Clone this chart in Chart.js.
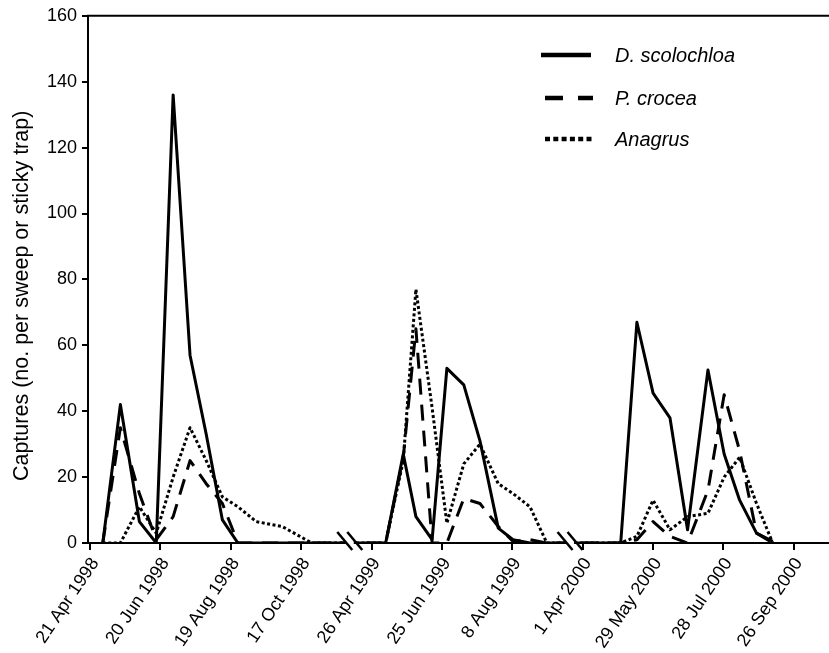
<!DOCTYPE html>
<html>
<head>
<meta charset="utf-8">
<script src="https://cdn.jsdelivr.net/npm/chart.js@4.4.1/dist/chart.umd.min.js"></script>
<style>
  html, body { margin: 0; padding: 0; background: #fff; }
  #wrap { width: 829px; height: 653px; }
</style>
</head>
<body>
<div id="wrap"><canvas id="chart"></canvas></div>
<script>
// tick labels, one per tick interval on the x axis
const tickLabels = ['21 Apr 1998', '20 Jun 1998', '19 Aug 1998', '17 Oct 1998',
    '26 Apr 1999', '25 Jun 1999', '8 Aug 1999',
    '1 Apr 2000', '29 May 2000', '28 Jul 2000', '26 Sep 2000'];

// sampling dates, as positions on the tick scale (1 = one tick interval)
const sampleX = [0.18, 0.43, 0.70, 0.94, 1.18, 1.42, 1.65, 1.88, 2.10, 2.36, 2.73, 3.15,
    4.20, 4.45, 4.63, 4.86, 5.07, 5.31, 5.54, 5.80, 6.01, 6.25, 6.49,
    7.32, 7.54, 7.77, 8.00, 8.24, 8.49, 8.78, 9.01, 9.23, 9.47, 9.70];

const scolochloa = [0, 42, 6.5, 0, 136, 57, 33, 7, 0, 0, 0, 0,
    0, 27, 8, 1, 53, 48, 31, 4.5, 1, 0, 0,
    0, 0, 67, 45.5, 38, 4, 52.5, 27, 13, 3, 0.5];
const crocea = [0, 35, 15, 1, 8, 25, 18, 12, 0, 0, 0, 0,
    0, 26, 65, 0, 0, 13.5, 12, 5, 0.5, 1, 0,
    0, 0, 1, 6.5, 2, 0, 16, 45, 28, 3, 0];
const anagrus = [0, 0, 11, 3, 20, 35, 25, 14, 11, 6.5, 5, 0,
    0, 25, 77, 41, 6, 24, 30, 18, 15, 11, 0,
    0, 0, 2, 13, 4, 8, 9, 20, 26, 12, 0];

// where the axis is broken (same tick scale)
const axisBreaks = [3.69, 6.82];

const toPoints = vals => vals.map((v, i) => ({ x: sampleX[i], y: v }));

Chart.defaults.font.family = '"Liberation Sans", Arial, Helvetica, sans-serif';
Chart.defaults.color = '#000';

// legend drawn inside the plot, top right
const legendPlugin = {
    id: 'inlineLegend',
    afterDraw(chart) {
        const ctx = chart.ctx;
        const rows = [{ y: 55, x0: 541, x1: 591 }, { y: 98, x0: 545, x1: 593 }, { y: 139, x0: 545, x1: 593 }];
        const dashes = [[], [18, 15], [5, 3.3]];
        chart.data.datasets.forEach((ds, i) => {
            const r = rows[i];
            ctx.save();
            ctx.strokeStyle = '#000';
            ctx.lineWidth = 4.5;
            ctx.setLineDash(dashes[i]);
            ctx.beginPath();
            ctx.moveTo(r.x0, r.y);
            ctx.lineTo(r.x1, r.y);
            ctx.stroke();
            ctx.setLineDash([]);
            ctx.fillStyle = '#000';
            ctx.font = 'italic 20px "Liberation Sans", Arial, sans-serif';
            ctx.textBaseline = 'alphabetic';
            ctx.fillText(ds.label, 615, r.y + 7);
            ctx.restore();
        });
    }
};

// top frame line, y title and the // break marks on the x axis
const framePlugin = {
    id: 'frame',
    afterDraw(chart) {
        const { ctx, chartArea, scales } = chart;
        ctx.save();
        ctx.strokeStyle = '#000';
        ctx.lineWidth = 2;
        ctx.beginPath();
        ctx.moveTo(chartArea.left - 1, chartArea.top);
        ctx.lineTo(chartArea.right, chartArea.top);
        ctx.stroke();

        const y0 = chartArea.bottom;
        axisBreaks.forEach(b => {
            const cx = scales.x.getPixelForValue(b);
            ctx.fillStyle = '#fff';
            ctx.fillRect(cx - 4, y0 - 4, 8, 8);
            ctx.lineWidth = 2.5;
            [-5, 5].forEach(d => {
                ctx.beginPath();
                ctx.moveTo(cx + d - 7.5, y0 - 11);
                ctx.lineTo(cx + d + 7.5, y0 + 7);
                ctx.stroke();
            });
        });

        // axis title, centred a little below the middle as in the original
        ctx.translate(22, scales.y.getPixelForValue(75));
        ctx.rotate(-Math.PI / 2);
        ctx.fillStyle = '#000';
        ctx.font = '21.5px "Liberation Sans", Arial, sans-serif';
        ctx.textAlign = 'center';
        ctx.textBaseline = 'middle';
        ctx.fillText('Captures (no. per sweep or sticky trap)', 0, 0);
        ctx.restore();
    }
};

const lineStyle = { borderColor: '#000', borderWidth: 3, pointRadius: 0, tension: 0, fill: false, borderJoinStyle: 'round' };

new Chart(document.getElementById('chart'), {
    type: 'line',
    data: {
        datasets: [
            { label: 'D. scolochloa', data: toPoints(scolochloa), ...lineStyle },
            { label: 'P. crocea', data: toPoints(crocea), ...lineStyle, borderDash: [16, 10] },
            { label: 'Anagrus', data: toPoints(anagrus), ...lineStyle, borderDash: [3, 2.5] }
        ]
    },
    options: {
        responsive: true,
        maintainAspectRatio: false,
        animation: false,
        layout: { padding: { top: 15, right: 0, bottom: 0, left: 0 } },
        plugins: {
            legend: { display: false },
            tooltip: { enabled: false }
        },
        scales: {
            x: {
                type: 'linear',
                min: -0.03,
                max: 10.5,
                afterBuildTicks: axis => { axis.ticks = tickLabels.map((_, i) => ({ value: i })); },
                afterFit: axis => { axis.height = 110; },
                ticks: {
                    callback: v => tickLabels[Math.round(v)] ?? '',
                    autoSkip: false,
                    minRotation: 56,
                    maxRotation: 56,
                    labelOffset: 5,
                    padding: 4,
                    font: { size: 18 }
                },
                grid: { drawOnChartArea: false, drawTicks: true, tickLength: 7, color: '#000', lineWidth: 2 },
                border: { color: '#000', width: 2 }
            },
            y: {
                min: 0,
                max: 160,
                afterFit: axis => { axis.width = 88; },
                ticks: { stepSize: 20, padding: 5, font: { size: 18 } },
                grid: { drawOnChartArea: false, drawTicks: true, tickLength: 6, color: '#000', lineWidth: 2 },
                border: { color: '#000', width: 2 }
            }
        }
    },
    plugins: [legendPlugin, framePlugin]
});
</script>
</body>
</html>
